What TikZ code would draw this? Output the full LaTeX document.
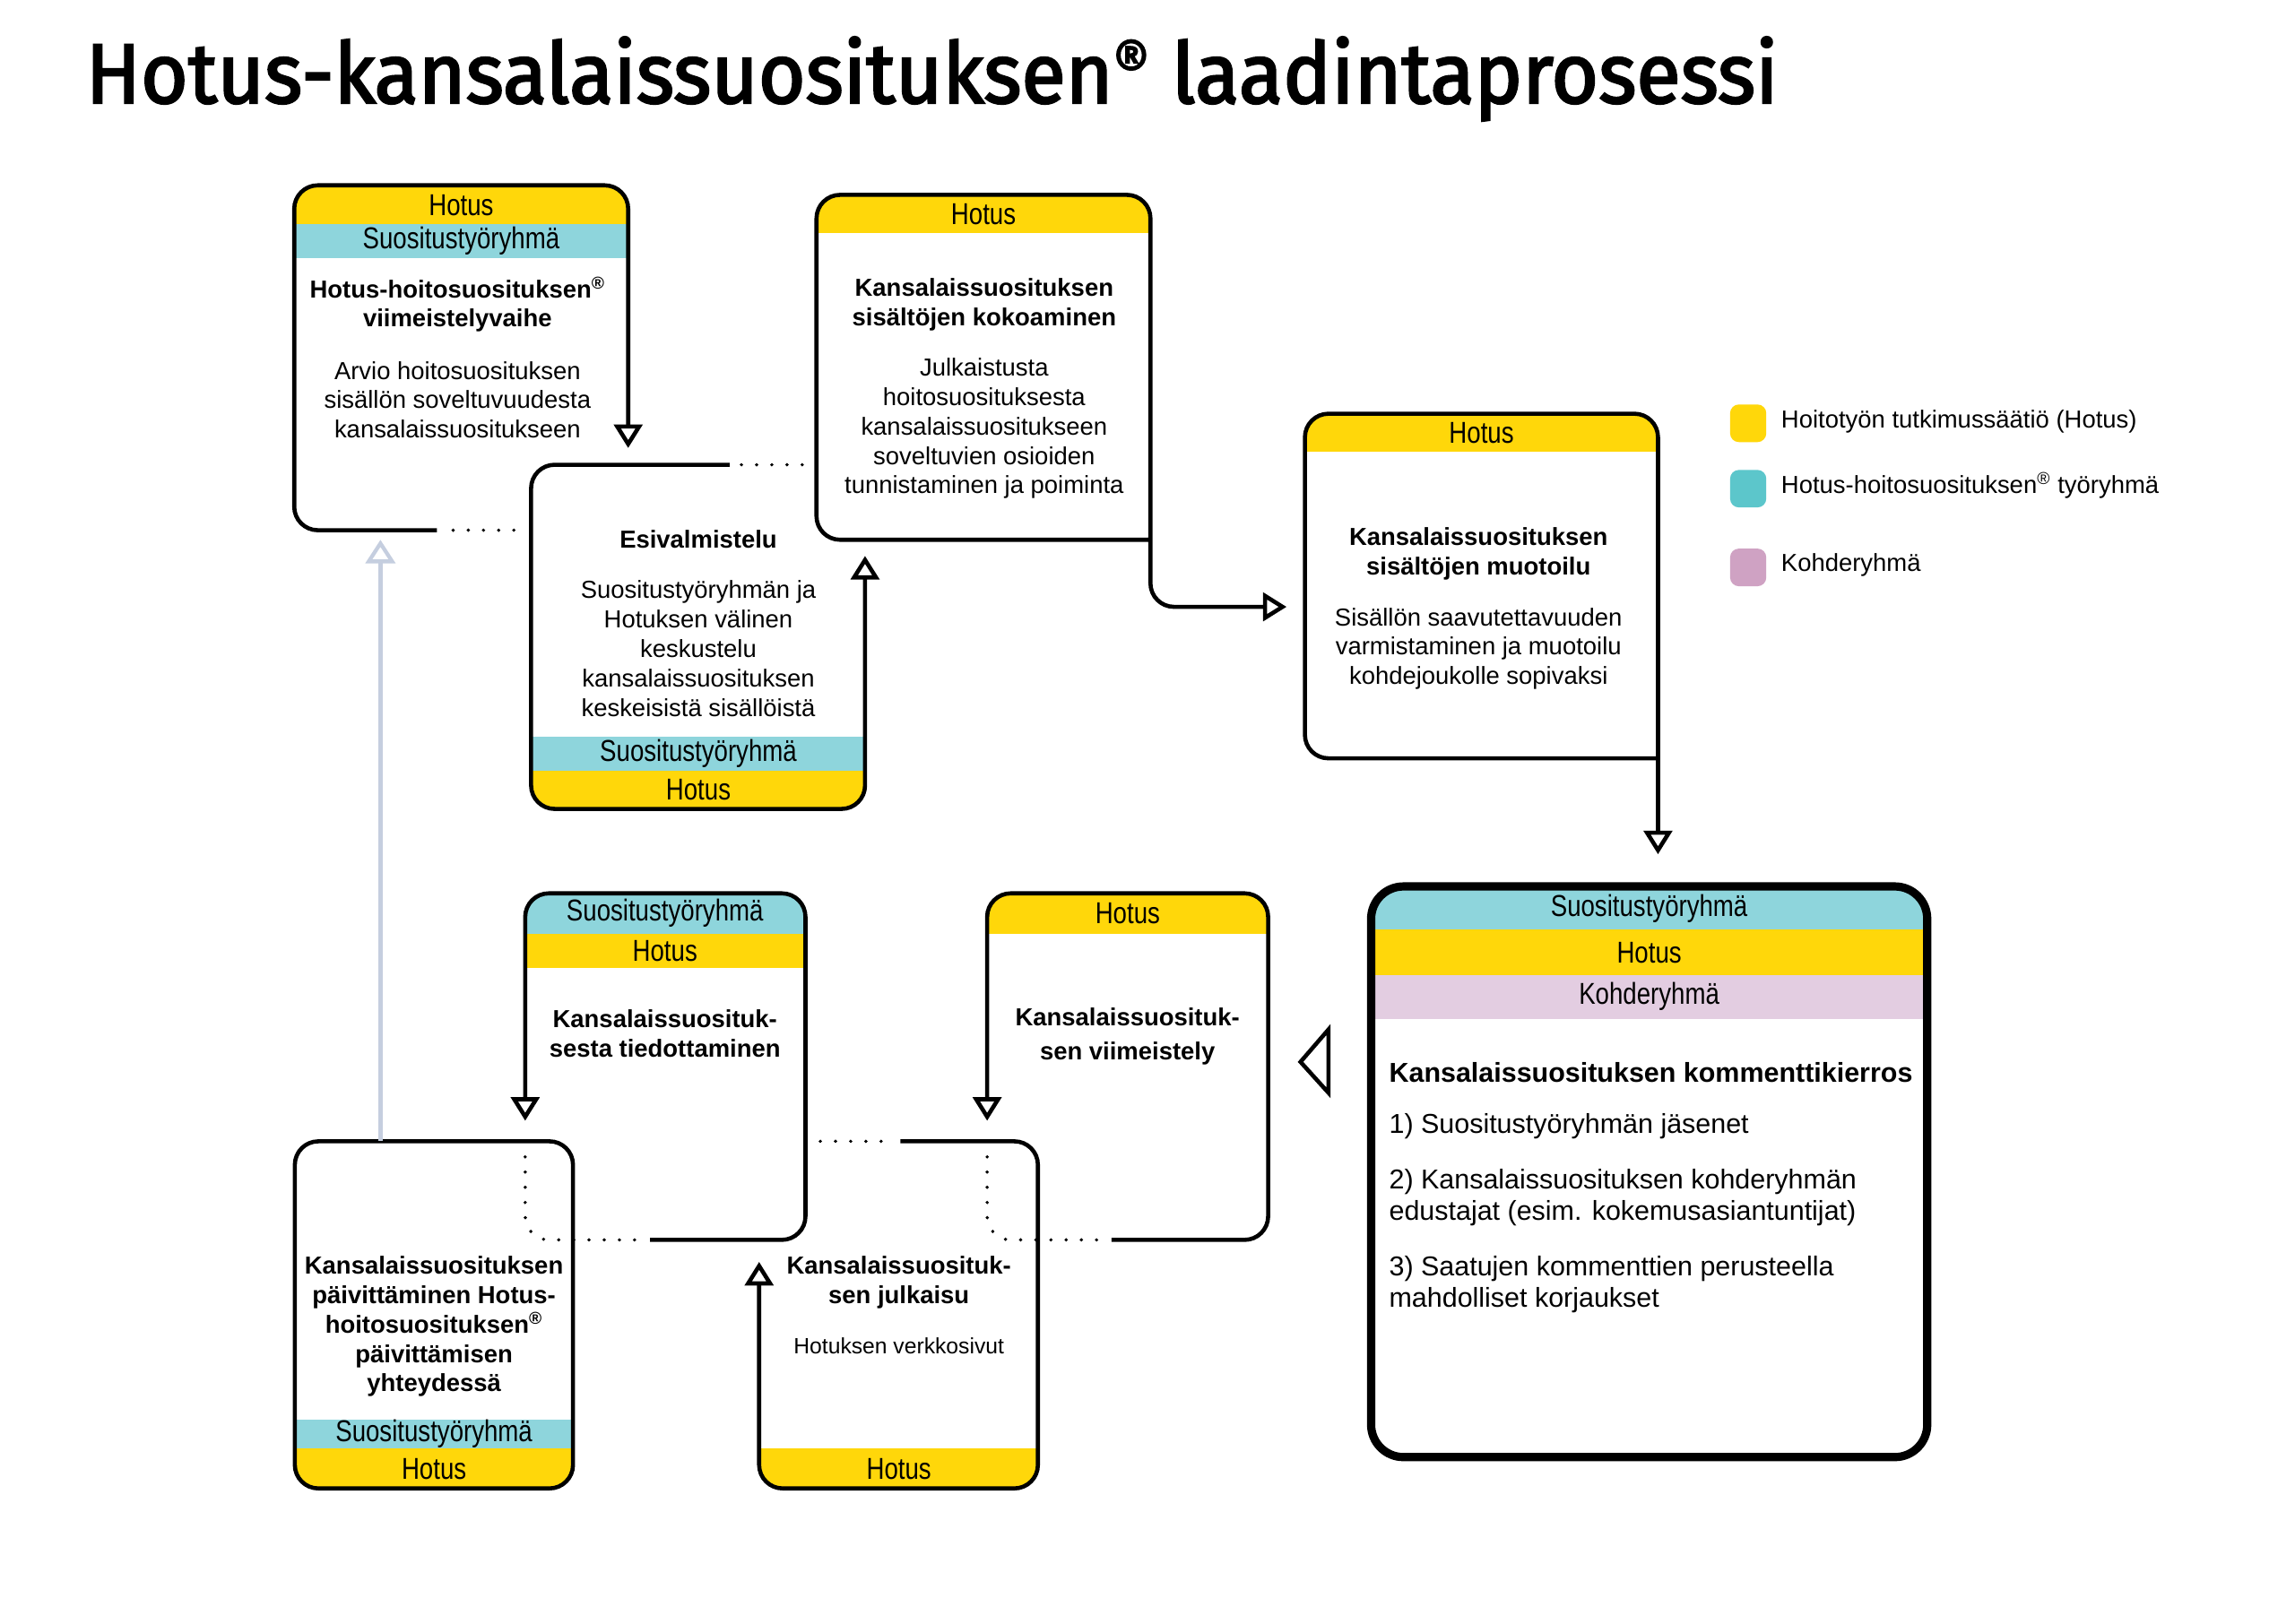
\documentclass[tikz,border=0pt]{standalone}
\usepackage{fontspec}
\setmainfont{Liberation Sans}
\newfontfamily\narrowfont[FakeStretch=0.82]{Liberation Sans}
\newfontfamily\titlefont[FakeBold=2.4,FakeStretch=0.955]{Fira Sans}
\usetikzlibrary{arrows.meta}
\definecolor{hotusyellow}{HTML}{FFD70A}
\definecolor{groupcyan}{HTML}{8ED5DC}
\definecolor{legendcyan}{HTML}{5CC6CB}
\definecolor{targetpink}{HTML}{E3CDE1}
\definecolor{legendpink}{HTML}{CFA2C3}
\definecolor{backgray}{HTML}{C5CEDF}

\begin{document}
\begin{tikzpicture}[x=0.25mm, y=-0.25mm,
	band/.style={inner sep=0pt, font=\narrowfont\fontsize{14.6}{16}\selectfont},
	heading/.style={inner sep=0pt, align=center, font=\bfseries\fontsize{11.9}{14.2}\selectfont},
	body/.style={inner sep=0pt, align=center, font=\fontsize{11.9}{14.2}\selectfont},
	outline/.style={line width=0.7mm, rounded corners=4mm},
	flow/.style={-{Triangle[open, length=4mm, width=4.8mm]}},
	dots/.style={line width=0.6mm, line cap=round, dash pattern=on 0pt off 2.58mm},
	]
	\fill[white] (0,0) rectangle (1560,1103.6);
	\useasboundingbox (0,0) rectangle (1560,1103.6);

	%Corners
	\coordinate (a-nw) at (200,126);	\coordinate (a-se) at (427,360.5);
	\coordinate (b-nw) at (361,316);	\coordinate (b-se) at (588,550);
	\coordinate (c-nw) at (555,132.5);	\coordinate (c-se) at (782,367);
	\coordinate (d-nw) at (887,281.3);	\coordinate (d-se) at (1127,515.6);
	\coordinate (e-nw) at (932,602.7);	\coordinate (e-se) at (1310,990.7);
	\coordinate (f-nw) at (671,607.4);	\coordinate (f-se) at (862,843);
	\coordinate (g-nw) at (516,776);	\coordinate (g-se) at (705.5,1012);
	\coordinate (h-nw) at (357,607.4);	\coordinate (h-se) at (547.5,843);
	\coordinate (i-nw) at (200.4,776);	\coordinate (i-se) at (389.5,1012);

	%Bands
	\begin{scope}
		\clip[rounded corners=4mm] (a-nw) rectangle (a-se);
		\fill[hotusyellow] (a-nw) rectangle (427,152.4);
		\fill[groupcyan] (200,152.4) rectangle (427,175.5);
	\end{scope}
	\begin{scope}
		\clip[rounded corners=4mm] (b-nw) rectangle (b-se);
		\fill[groupcyan] (361,501) rectangle (588,524);
		\fill[hotusyellow] (361,524) rectangle (b-se);
	\end{scope}
	\begin{scope}
		\clip[rounded corners=4mm] (c-nw) rectangle (c-se);
		\fill[hotusyellow] (c-nw) rectangle (782,158.4);
	\end{scope}
	\begin{scope}
		\clip[rounded corners=4mm] (d-nw) rectangle (d-se);
		\fill[hotusyellow] (d-nw) rectangle (1127,307);
	\end{scope}
	\begin{scope}
		\clip[rounded corners=5.5mm] (e-nw) rectangle (e-se);
		\fill[groupcyan] (e-nw) rectangle (1310,632);
		\fill[hotusyellow] (932,632) rectangle (1310,662.8);
		\fill[targetpink] (932,662.8) rectangle (1310,692.8);
	\end{scope}
	\begin{scope}
		\clip[rounded corners=4mm] (f-nw) rectangle (f-se);
		\fill[hotusyellow] (f-nw) rectangle (862,634.8);
	\end{scope}
	\begin{scope}
		\clip[rounded corners=4mm] (g-nw) rectangle (g-se);
		\fill[hotusyellow] (516,985) rectangle (g-se);
	\end{scope}
	\begin{scope}
		\clip[rounded corners=4mm] (h-nw) rectangle (h-se);
		\fill[groupcyan] (h-nw) rectangle (547.5,634.8);
		\fill[hotusyellow] (357,634.8) rectangle (547.5,658);
	\end{scope}
	\begin{scope}
		\clip[rounded corners=4mm] (i-nw) rectangle (i-se);
		\fill[groupcyan] (200.4,965) rectangle (389.5,985);
		\fill[hotusyellow] (200.4,985) rectangle (i-se);
	\end{scope}

	%Nodes
	\node[anchor=base west, inner sep=0pt, font=\titlefont\fontsize{41}{45}\selectfont] (title) at (58,70) {Hotus-kansalaissuosituksen\textsuperscript{®} laadintaprosessi};

	\node[band] (a-head) at (313.5,139.5) {Hotus};
	\node[band] (a-group) at (313.5,164) {Suositustyöryhmä};
	\node[heading] (a-title) at (311,207) {Hotus-hoitosuosituksen\textsuperscript{®}\\viimeistelyvaihe};
	\node[body] (a-body) at (311,271.8) {Arvio hoitosuosituksen\\sisällön soveltuvuudesta\\kansalaissuositukseen};

	\node[heading] (b-title) at (474.7,366.6) {Esivalmistelu};
	\node[body] (b-body) at (474.7,441) {Suositustyöryhmän ja\\Hotuksen välinen\\keskustelu\\kansalaissuosituksen\\keskeisistä sisällöistä};
	\node[band] (b-group) at (474.7,512.5) {Suositustyöryhmä};
	\node[band] (b-head) at (474.7,537) {Hotus};

	\node[band] (c-head) at (668.5,145.5) {Hotus};
	\node[heading] (c-title) at (669,207) {Kansalaissuosituksen\\sisältöjen kokoaminen};
	\node[body] (c-body) at (669,291.5) {Julkaistusta\\hoitosuosituksesta\\kansalaissuositukseen\\soveltuvien osioiden\\tunnistaminen ja poiminta};

	\node[band] (d-head) at (1007,294.2) {Hotus};
	\node[heading] (d-title) at (1005,376.5) {Kansalaissuosituksen\\sisältöjen muotoilu};
	\node[body] (d-body) at (1005,441) {Sisällön saavutettavuuden\\varmistaminen ja muotoilu\\kohdejoukolle sopivaksi};

	\node[band] (e-group) at (1121,617.7) {Suositustyöryhmä};
	\node[band] (e-head) at (1121,647.8) {Hotus};
	\node[band] (e-target) at (1121,677.6) {Kohderyhmä};
	\node[heading, anchor=west, font=\bfseries\fontsize{13.2}{15.2}\selectfont] (e-title) at (944,729) {Kansalaissuosituksen kommenttikierros};
	\node[body, anchor=west, align=left, font=\fontsize{13.2}{15.2}\selectfont] (e-one) at (944,766) {1) Suositustyöryhmän jäsenet};
	\node[body, anchor=west, align=left, font=\fontsize{13.2}{15.2}\selectfont] (e-two) at (944,814.2) {2) Kansalaissuosituksen kohderyhmän\\edustajat (esim. kokemusasiantuntijat)};
	\node[body, anchor=west, align=left, font=\fontsize{13.2}{15.2}\selectfont] (e-three) at (944,873.3) {3) Saatujen kommenttien perusteella\\mahdolliset korjaukset};

	\node[band] (f-head) at (766.5,621) {Hotus};
	\node[heading, font=\bfseries\fontsize{11.9}{16.6}\selectfont] (f-title) at (766.4,704.5) {Kansalaissuosituk-\\sen viimeistely};

	\node[band] (h-group) at (452,621) {Suositustyöryhmä};
	\node[band] (h-head) at (452,646.5) {Hotus};
	\node[heading] (h-title) at (452,702.5) {Kansalaissuosituk-\\sesta tiedottaminen};

	\node[heading] (g-title) at (611,872) {Kansalaissuosituk-\\sen julkaisu};
	\node[body, font=\fontsize{10.7}{13}\selectfont] (g-body) at (611,915) {Hotuksen verkkosivut};
	\node[band] (g-head) at (611,998.5) {Hotus};

	\node[heading] (i-title) at (295,902) {Kansalaissuosituksen\\päivittäminen Hotus-\\hoitosuosituksen\textsuperscript{®}\\päivittämisen\\yhteydessä};
	\node[band] (i-group) at (295,975) {Suositustyöryhmä};
	\node[band] (i-head) at (295,998.5) {Hotus};

	%Legend
	\fill[hotusyellow, rounded corners=1.5mm] (1176,275) rectangle (1200.6,300.6);
	\fill[legendcyan, rounded corners=1.5mm] (1176,319.5) rectangle (1200.6,345);
	\fill[legendpink, rounded corners=1.5mm] (1176,373) rectangle (1200.6,398.6);
	\node[body, anchor=west] (key-hotus) at (1210.5,286.4) {Hoitotyön tutkimussäätiö (Hotus)};
	\node[body, anchor=west] (key-group) at (1210.5,330) {Hotus-hoitosuosituksen\textsuperscript{®} työryhmä};
	\node[body, anchor=west] (key-target) at (1210.5,384) {Kohderyhmä};

	%Arrow ends
	\coordinate (a-cut) at (297,360.5);
	\coordinate (b-in) at (427,304.6);
	\coordinate (b-cut) at (496,316);
	\coordinate (c-in) at (588,378);
	\coordinate (c-bend) at (782,412.6);
	\coordinate (d-in) at (874.5,412.6);
	\coordinate (e-in) at (1127,580.8);
	\coordinate (f-cut) at (755.6,843);
	\coordinate (g-in) at (671,762);
	\coordinate (g-cut) at (612,776);
	\coordinate (h-cut) at (441.8,843);
	\coordinate (i-in) at (357,762);
	\coordinate (h-in) at (516,858);
	\coordinate (a-in) at (258.6,367);
	\coordinate (i-out) at (258.6,776);

	%Lines
	\draw[outline, flow] (a-cut) -- (a-nw |- a-se) -- (a-nw) -- (a-se |- a-nw) -- (b-in);
	\draw[outline, flow] (b-cut) -- (b-nw) -- (b-nw |- b-se) -- (b-se) -- (c-in);
	\draw[outline, flow] (c-se) -- (c-nw |- c-se) -- (c-nw) -- (c-se |- c-nw) -- (c-bend) -- (d-in);
	\draw[outline, flow] (d-se) -- (d-nw |- d-se) -- (d-nw) -- (d-se |- d-nw) -- (e-in);
	\draw[line width=1.4mm, rounded corners=5.5mm] (e-nw) rectangle (e-se);
	\draw[line width=0.7mm, line join=miter, fill=white] (903,700) -- (884,722) -- (903,743) -- cycle;
	\draw[outline, flow] (f-cut) -- (f-se) -- (f-se |- f-nw) -- (f-nw) -- (g-in);
	\draw[outline, flow] (h-cut) -- (h-se) -- (h-se |- h-nw) -- (h-nw) -- (i-in);
	\draw[outline, flow] (g-cut) -- (g-se |- g-nw) -- (g-se) -- (g-nw |- g-se) -- (h-in);
	\draw[outline] (i-nw) rectangle (i-se);
	\draw[line width=0.65mm, backgray, -{Triangle[open, length=4mm, width=5mm]}] (i-out) -- (a-in);

	%Dots
	\draw[dots] (308,360.5) -- (349.5,360.5);
	\draw[dots] (504,316) -- (545.5,316);
	\draw[dots] (557.6,776) -- (600,776);
	\draw[dots, rounded corners=4mm] (671,786.6) -- (671,843) -- (746,843);
	\draw[dots, rounded corners=4mm] (357,786.6) -- (357,843) -- (433,843);
\end{tikzpicture}
\end{document}
